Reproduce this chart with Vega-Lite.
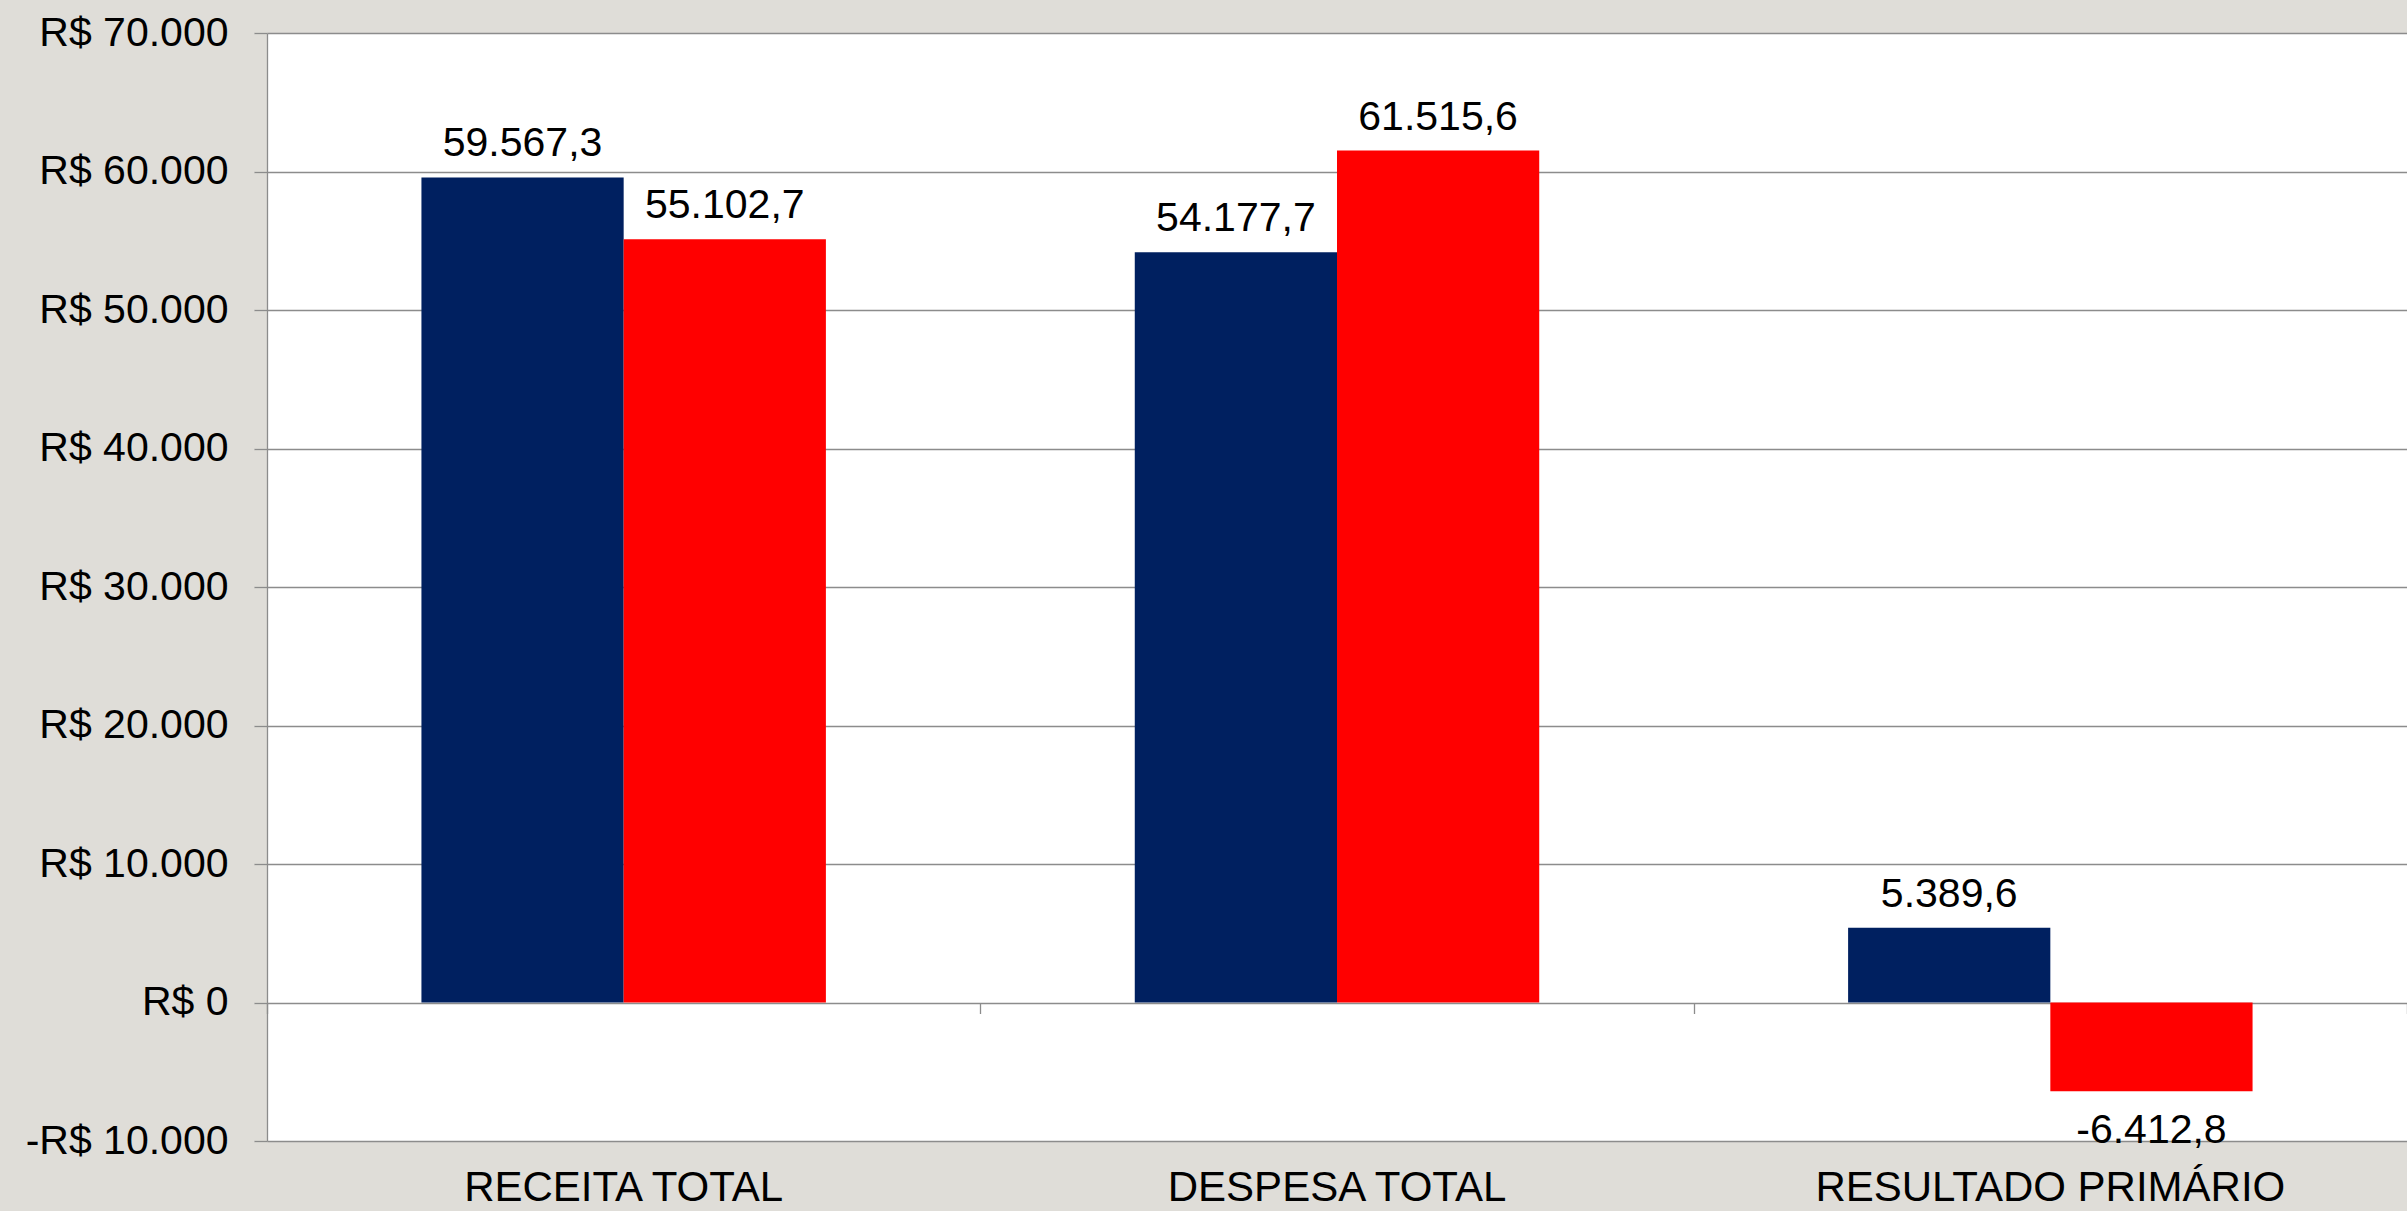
{
  "$schema": "https://vega.github.io/schema/vega-lite/v6.json",
  "width": 2140,
  "height": 1108,
  "autosize": {"type": "none"},
  "padding": {"left": 267, "top": 33, "right": 0, "bottom": 70},
  "background": "#dfddd8",
  "config": {
    "locale": {"number": {"decimal": ",", "thousands": ".", "grouping": [3], "currency": ["R$ ", ""], "minus": "-"}},
    "view": {"fill": "white", "stroke": null},
    "font": "Liberation Sans"
  },
  "data": {
    "values": [
      {"categoria": "RECEITA TOTAL", "serie": "Série 1", "valor": 59567.3},
      {"categoria": "RECEITA TOTAL", "serie": "Série 2", "valor": 55102.7},
      {"categoria": "DESPESA TOTAL", "serie": "Série 1", "valor": 54177.7},
      {"categoria": "DESPESA TOTAL", "serie": "Série 2", "valor": 61515.6},
      {"categoria": "RESULTADO PRIMÁRIO", "serie": "Série 1", "valor": 5389.6},
      {"categoria": "RESULTADO PRIMÁRIO", "serie": "Série 2", "valor": -6412.8}
    ]
  },
  "layer": [
    {
      "encoding": {
        "x": {
          "field": "categoria", "type": "nominal", "sort": null,
          "scale": {"paddingInner": 0.433, "paddingOuter": 0.2165},
          "axis": {"orient": "bottom", "title": null, "ticks": false, "domain": false, "labelAngle": 0, "labelFontSize": 42, "labelColor": "black", "labelPadding": 26, "labelLimit": 800, "grid": false}
        },
        "xOffset": {"field": "serie", "type": "nominal", "scale": {"paddingInner": 0, "paddingOuter": 0}},
        "y": {
          "field": "valor", "type": "quantitative",
          "scale": {"domain": [-10000, 70000], "nice": false, "zero": false},
          "axis": {
            "title": null,
            "values": [-10000, 0, 10000, 20000, 30000, 40000, 50000, 60000, 70000],
            "format": "$,.0f",
            "labelFontSize": 41, "labelColor": "black", "labelPadding": 26, "labelLimit": 400,
            "tickSize": 13, "tickColor": "#8c8c8c", "tickWidth": 1.3,
            "domainColor": "#8c8c8c", "domainWidth": 1.3,
            "gridColor": "#8c8c8c", "gridWidth": 1.3, "gridOpacity": 1
          }
        }
      },
      "layer": [
        {
          "mark": {"type": "bar"},
          "encoding": {
            "color": {"field": "serie", "type": "nominal", "scale": {"domain": ["Série 1", "Série 2"], "range": ["#002060", "#ff0000"]}, "legend": null}
          }
        },
        {
          "transform": [{"filter": "datum.valor >= 0"}],
          "mark": {"type": "text", "baseline": "alphabetic", "dy": -21, "fontSize": 41, "color": "black"},
          "encoding": {"text": {"field": "valor", "type": "quantitative", "format": ",.1f"}}
        },
        {
          "transform": [{"filter": "datum.valor < 0"}],
          "mark": {"type": "text", "baseline": "alphabetic", "dy": 52, "fontSize": 41, "color": "black"},
          "encoding": {"text": {"field": "valor", "type": "quantitative", "format": ",.1f"}}
        }
      ]
    },
    {
      "mark": {"type": "text", "text": ""},
      "encoding": {
        "x": {
          "field": "categoria", "type": "nominal", "sort": null,
          "scale": {"paddingInner": 0, "paddingOuter": 0},
          "axis": {"orient": "bottom", "offset": -138.5, "title": null, "labels": false, "ticks": true, "tickSize": 11, "tickColor": "#8c8c8c", "tickWidth": 1.3, "tickBand": "extent", "domain": false, "grid": false}
        }
      }
    }
  ],
  "resolve": {"scale": {"x": "independent"}}
}
